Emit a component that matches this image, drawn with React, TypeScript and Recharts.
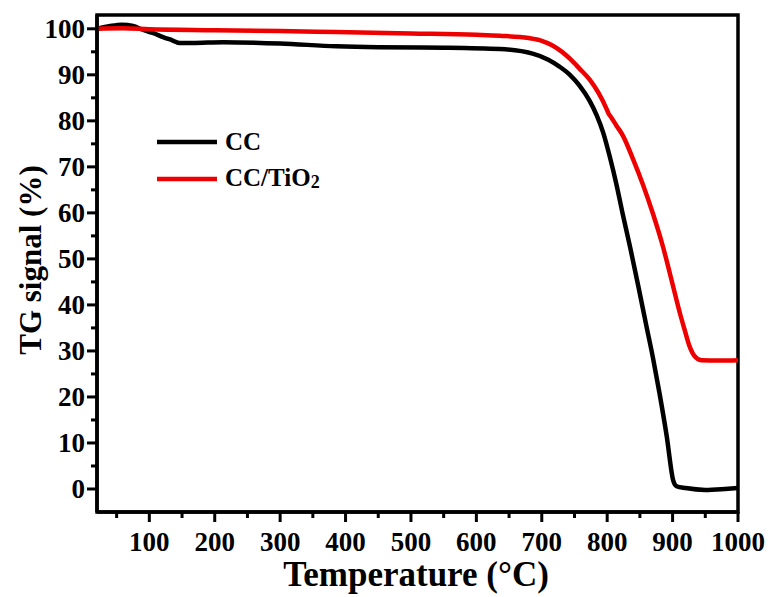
import { LineChart, Line, XAxis, YAxis, ReferenceArea, Legend } from 'recharts'

// temperature (°C) / TG signal (%)
const ccTemp = [20, 40, 58, 75, 90, 105, 121, 135, 147, 165, 213, 300, 386, 450, 550, 636, 686, 710, 727, 743, 758, 773, 784, 794, 804, 814, 824, 835, 848, 860, 870, 880, 891, 901, 906, 920, 950, 980, 1000]
const ccSignal = [100, 100.6, 100.9, 100.6, 99.8, 99.1, 98.2, 97.5, 96.9, 96.9, 97.1, 96.8, 96.2, 96.0, 95.9, 95.6, 94.6, 93.3, 91.8, 90.0, 87.6, 84.4, 81.2, 77.4, 72.2, 66.3, 59.6, 52.6, 43.8, 35.4, 28.5, 20.8, 11.5, 1.8, 0.6, 0.2, -0.2, 0, 0.2]

const tio2Temp = [20, 60, 100, 200, 300, 386, 500, 600, 636, 680, 700, 715, 730, 743, 758, 773, 787, 799, 802, 806, 814, 824, 840, 855, 870, 885, 900, 911, 918, 926, 933, 944, 972, 1000]
const tio2Signal = [100, 100.1, 99.9, 99.7, 99.5, 99.3, 99.0, 98.7, 98.5, 98.0, 97.4, 96.5, 95.1, 93.5, 91.3, 89.0, 86.0, 82.6, 81.6, 80.8, 79.0, 76.8, 71.5, 66.0, 59.8, 52.8, 44.5, 38.3, 34.8, 31.0, 29.0, 28.0, 27.9, 28.0]

const xTicks = [50, 100, 150, 200, 250, 300, 350, 400, 450, 500, 550, 600, 650, 700, 750, 800, 850, 900, 950, 1000]
const yTicks = [0, 5, 10, 15, 20, 25, 30, 35, 40, 45, 50, 55, 60, 65, 70, 75, 80, 85, 90, 95, 100]

const ccData = ccTemp.map((t, i) => ({ t, v: ccSignal[i] }))
const tio2Data = tio2Temp.map((t, i) => ({ t, v: tio2Signal[i] }))

const FONT = '"Liberation Serif", "Times New Roman", serif'

function XTick(props: any) {
  const { x, y, payload } = props
  const major = payload.value % 100 === 0
  return (
    <g>
      <line x1={x} x2={x} y1={y} y2={y + (major ? 10 : 6)} stroke="#000" strokeWidth={3} />
      {major && (
        <text x={x} y={y + 39} textAnchor="middle" fontFamily={FONT} fontWeight="bold" fontSize={27} fill="#000">
          {payload.value}
        </text>
      )}
    </g>
  )
}

function YTick(props: any) {
  const { x, y, payload } = props
  const major = payload.value % 10 === 0
  return (
    <g>
      <line x1={x} x2={x - (major ? 10 : 6)} y1={y} y2={y} stroke="#000" strokeWidth={3} />
      {major && (
        <text x={x - 12} y={y} dy="0.34em" textAnchor="end" fontFamily={FONT} fontWeight="bold" fontSize={27} fill="#000">
          {payload.value}
        </text>
      )}
    </g>
  )
}

function LegendBox(props: any) {
  const items = props.payload || []
  return (
    <div style={{ fontFamily: FONT, fontWeight: 'bold', fontSize: 25, color: '#000' }}>
      {items.map((it: any) => (
        <div key={it.value} style={{ display: 'flex', alignItems: 'center', height: 37 }}>
          <svg width={62} height={8} style={{ marginRight: 7 }}>
            <line x1={1} x2={61} y1={4} y2={4} stroke={it.color} strokeWidth={4.5} />
          </svg>
          <span>
            {it.value === 'CC/TiO2' ? (
              <>
                CC/TiO<span style={{ fontSize: '0.72em', verticalAlign: '-0.12em' }}>2</span>
              </>
            ) : (
              it.value
            )}
          </span>
        </div>
      ))}
    </div>
  )
}

export default function App() {
  return (
    <div style={{ position: 'absolute', left: 0, top: 0, width: 775, height: 597, background: '#fff' }}>
      <LineChart width={775} height={597} margin={{ top: 15, right: 37, bottom: 0, left: 0 }}>
        <XAxis
          dataKey="t"
          type="number"
          domain={[20, 1000]}
          ticks={xTicks}
          interval={0}
          allowDataOverflow
          height={85}
          tickSize={0}
          tickMargin={0}
          tickLine={false}
          tick={<XTick />}
          axisLine={{ stroke: '#000', strokeWidth: 3.5 }}
        />
        <YAxis
          dataKey="v"
          type="number"
          domain={[-5, 103]}
          ticks={yTicks}
          interval={0}
          allowDataOverflow
          width={97}
          tickSize={0}
          tickMargin={0}
          tickLine={false}
          tick={<YTick />}
          axisLine={{ stroke: '#000', strokeWidth: 3.5 }}
        />
        <ReferenceArea x1={20} x2={1000} y1={-5} y2={103} fill="none" stroke="#000" strokeWidth={3.5} />
        <Line data={ccData} dataKey="v" name="CC" type="monotone" stroke="#000" strokeWidth={4.5} dot={false} isAnimationActive={false} />
        <Line data={tio2Data} dataKey="v" name="CC/TiO2" type="monotone" stroke="#ee0000" strokeWidth={4.5} dot={false} isAnimationActive={false} />
        <Legend
          layout="vertical"
          align="center"
          verticalAlign="middle"
          content={<LegendBox />}
          wrapperStyle={{ left: 156, top: 123, width: 'auto' }}
        />
      </LineChart>
      <div
        style={{
          position: 'absolute',
          left: 30,
          top: 260,
          transform: 'translate(-50%, -50%) rotate(-90deg)',
          whiteSpace: 'nowrap',
          fontFamily: FONT,
          fontWeight: 'bold',
          fontSize: 31,
          lineHeight: 1,
        }}
      >
        TG signal (%)
      </div>
      <div
        style={{
          position: 'absolute',
          left: 416,
          top: 574,
          transform: 'translate(-50%, -50%)',
          whiteSpace: 'nowrap',
          fontFamily: FONT,
          fontWeight: 'bold',
          fontSize: 35,
          lineHeight: 1,
        }}
      >
        Temperature (°C)
      </div>
    </div>
  )
}
